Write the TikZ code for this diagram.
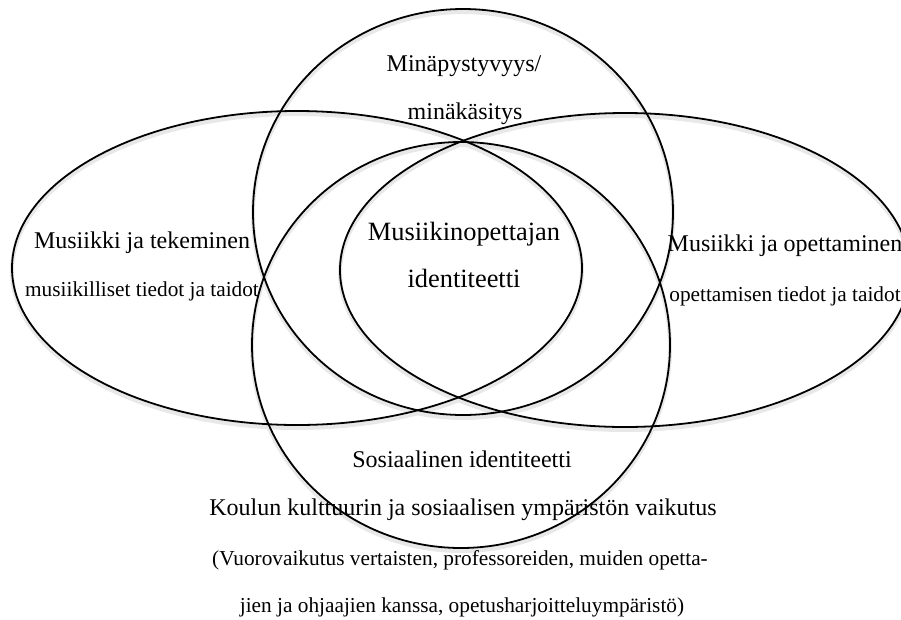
\documentclass[tikz,border=0pt]{standalone}
\usepackage{fontspec}
\setmainfont{Liberation Serif}
\tikzset{
    ring/.style={line width=1.8pt},
    ringshadow/.style={line width=4pt, black!9},
    lbl/.style={anchor=base, inner sep=0pt, font=\fontsize{24}{28}\selectfont},
    lblsmall/.style={lbl, font=\fontsize{21.3}{26}\selectfont},
    lblcore/.style={lbl, font=\fontsize{26.4}{31}\selectfont}
}
\begin{document}
\begin{tikzpicture}[x=1pt,y=-1pt]
    \useasboundingbox (0,0) rectangle (901,619);
    % shadows
    \foreach \cx/\cy/\rx/\ry in {297/271/285/157, 625/273/285/157, 463/215/210/203, 461/348/209/203} {
        \draw[ringshadow] (\cx,\cy) ellipse [x radius=\rx pt, y radius=\ry pt];
    }
    % the four sets
    \foreach \cx/\cy/\rx/\ry in {297/268/285/157, 625/270/285/157, 463/212/210/203, 461/345/209/203} {
        \draw[ring] (\cx,\cy) ellipse [x radius=\rx pt, y radius=\ry pt];
    }
    % top set
    \node[lbl] (selfa) at (464,71) {Minäpystyvyys/};
    \node[lbl] (selfb) at (465,119) {minäkäsitys};
    % centre
    \node[lblcore] (corea) at (464,240) {Musiikinopettajan};
    \node[lblcore] (coreb) at (464,287) {identiteetti};
    % left set
    \node[lbl] (playa) at (142,248) {Musiikki ja tekeminen};
    \node[lblsmall] (playb) at (142,296) {musiikilliset tiedot ja taidot};
    % right set
    \node[lbl] (teacha) at (785,251) {Musiikki ja opettaminen};
    \node[lblsmall] (teachb) at (785,301) {opettamisen tiedot ja taidot};
    % bottom set
    \node[lbl] (sociala) at (462,467) {Sosiaalinen identiteetti};
    \node[lbl] (socialb) at (463,515) {Koulun kulttuurin ja sosiaalisen ympäristön vaikutus};
    \node[lblsmall] (socialc) at (460,565) {(Vuorovaikutus vertaisten, professoreiden, muiden opetta-};
    \node[lblsmall] (sociald) at (462,612) {jien ja ohjaajien kanssa, opetusharjoitteluympäristö)};
\end{tikzpicture}
\end{document}
